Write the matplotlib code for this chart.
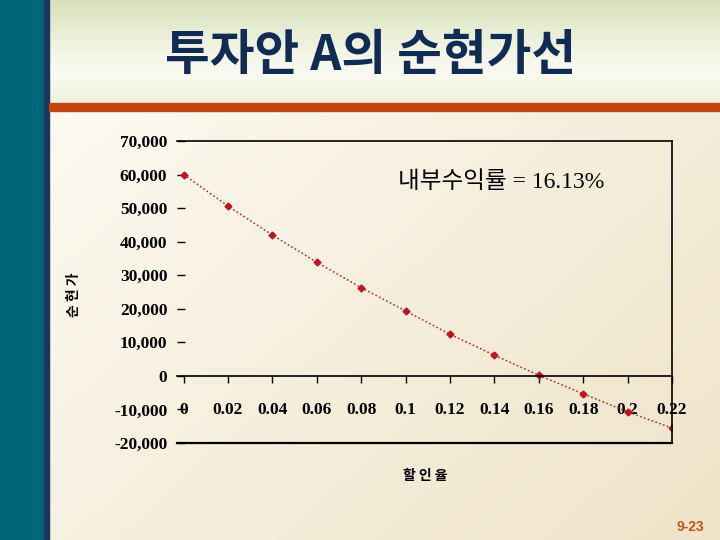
import numpy as np
import matplotlib
matplotlib.use("Agg")
import matplotlib.pyplot as plt

# discount rate vs NPV of project A
rates = [0.0, 0.02, 0.04, 0.06, 0.08, 0.10, 0.12, 0.14, 0.16, 0.18, 0.20, 0.22]
npv = [60000, 50600, 41950, 33850, 26300, 19350, 12400, 6150, 200, -5350, -10700, -15550]

x_ticks = [0, 0.02, 0.04, 0.06, 0.08, 0.1, 0.12, 0.14, 0.16, 0.18, 0.2, 0.22]
x_tick_labels = ["0", "0.02", "0.04", "0.06", "0.08", "0.1", "0.12", "0.14", "0.16", "0.18", "0.2", "0.22"]
y_ticks = [-20000, -10000, 0, 10000, 20000, 30000, 40000, 50000, 60000, 70000]
y_tick_labels = ["-20,000", "-10,000", "0", "10,000", "20,000", "30,000",
                 "40,000", "50,000", "60,000", "70,000"]

title = "투자안 A의 순현가선"
irr_text = "내부수익률 = 16.13%"
ylabel = "순 현 가"
xlabel = "할 인 율"
page = "9-23"

W, H = 720, 540
fig = plt.figure(figsize=(W / 100, H / 100), dpi=100)

# slide background
bg = fig.add_axes([0, 0, 1, 1], zorder=0)
bg.set_xlim(0, W)
bg.set_ylim(H, 0)
bg.axis("off")
yy, xx = np.mgrid[0:H, 0:W]
t = np.clip((xx / W) * 0.55 + (yy / H) * 0.45, 0, 1)[..., None]
c0 = np.array([254, 253, 247]) / 255
c1 = np.array([239, 227, 200]) / 255
img = c0 * (1 - t) + c1 * t
# top header band (greenish)
hy = np.arange(H)
s = np.clip(np.abs(hy - 72) / 72, 0, 1) ** 1.3
g_light = np.array([250, 250, 240]) / 255
g_dark = np.array([214, 224, 184]) / 255
head = g_light * (1 - s[:, None]) + g_dark * s[:, None]
img[:104] = head[:104][:, None, :]
bg.imshow(img, extent=(0, W, H, 0), aspect="auto", zorder=0)
bg.add_patch(plt.Rectangle((0, 0), 44, H, color="#00667A", zorder=1))
bg.add_patch(plt.Rectangle((44, 0), 5, H, color="#1B355E", zorder=1))
bg.add_patch(plt.Rectangle((49, 103), W - 49, 8, color="#C0460C", zorder=1))

fig.text(371 / W, 1 - 55 / H, title, ha="center", va="center", fontsize=35,
         fontweight="bold", color="#102C54", family=["Noto Sans CJK KR", "DejaVu Sans"])
fig.text(704 / W, 1 - 527 / H, page, ha="right", va="center", fontsize=10,
         fontweight="bold", color="#C0561C", family=["Liberation Sans", "DejaVu Sans"])

# chart
L, R, T, B = 177, 672, 141, 443
ax = fig.add_axes([L / W, 1 - B / H, (R - L) / W, (B - T) / H], zorder=2)
ax.set_facecolor("none")
ax.plot(rates, npv, linestyle=":", linewidth=1.1, color="#C0141E",
        marker="D", markersize=3.5, markerfacecolor="#C0141E", markeredgecolor="#C0141E")
ax.set_xlim(-0.003, 0.22)
ax.set_ylim(-20000, 70000)

ax.spines["left"].set_visible(False)
for side in ["top", "right"]:
    ax.spines[side].set_linewidth(1.2)
    ax.spines[side].set_color("black")
ax.spines["bottom"].set_position(("data", 0))
ax.spines["bottom"].set_linewidth(1.2)
ax.axhline(-20000, color="black", linewidth=1.6, clip_on=False)

serif = ["Liberation Serif", "DejaVu Serif"]
ax.set_xticks(x_ticks)
ax.set_xticklabels(x_tick_labels, fontsize=12.5, fontweight="bold", family=serif)
ax.tick_params(axis="x", direction="out", length=5, width=1, pad=14)
ax.set_yticks(y_ticks)
ax.set_yticklabels(y_tick_labels, fontsize=12.5, fontweight="bold", family=serif)
ax.tick_params(axis="y", direction="in", length=6, width=1, pad=7)

ax.text(0.446, 0.864, irr_text, transform=ax.transAxes, ha="left", va="center",
        fontsize=17, fontweight="light", family=["Liberation Serif", "Noto Sans CJK KR"])

fig.text(74 / W, 1 - 295 / H, ylabel, rotation=90, ha="center", va="center",
         fontsize=10, fontweight="bold", family=["Noto Sans CJK KR", "DejaVu Sans"])
fig.text(425 / W, 1 - 476 / H, xlabel, ha="center", va="center",
         fontsize=10, fontweight="bold", family=["Noto Sans CJK KR", "DejaVu Sans"])

fig.savefig("out.png", dpi=100)
